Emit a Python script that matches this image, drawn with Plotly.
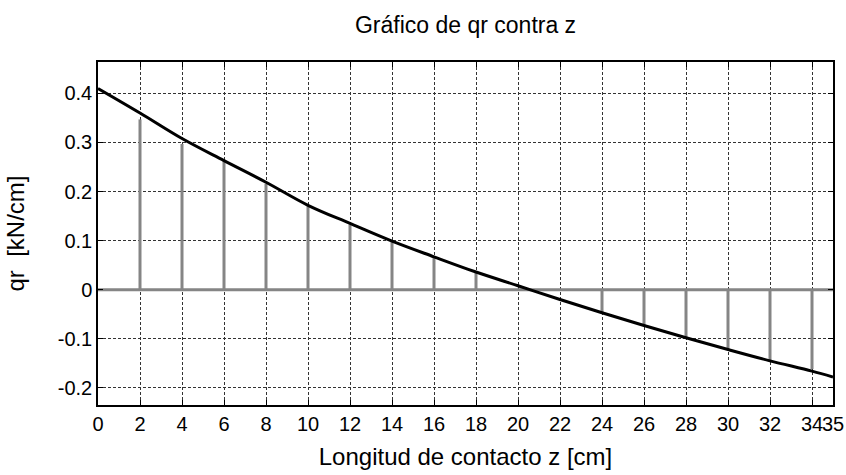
import plotly.graph_objects as go

# Curve qr(z)
curve_z = [0, 2, 4, 6, 8, 10, 12, 14, 16, 18, 20, 22, 24, 26, 28, 30, 32, 34, 35]
curve_q = [0.41, 0.36, 0.308, 0.263, 0.219, 0.172, 0.135, 0.099, 0.067, 0.036,
           0.008, -0.02, -0.047, -0.073, -0.098, -0.122, -0.145, -0.166, -0.178]

# Stems
stem_z = [2, 4, 6, 8, 10, 12, 14, 16, 18, 24, 26, 28, 30, 32, 34]
stem_q = [0.347, 0.297, 0.262, 0.216, 0.170, 0.133, 0.097, 0.065, 0.035,
          -0.046, -0.072, -0.098, -0.122, -0.144, -0.162]

# Zero baseline extent
base_z = [0, 35]
base_q = [0, 0]

x_ticks = [0, 2, 4, 6, 8, 10, 12, 14, 16, 18, 20, 22, 24, 26, 28, 30, 32, 34, 35]
y_ticks = [0.4, 0.3, 0.2, 0.1, 0, -0.1, -0.2]
y_ticktext = ["0.4", "0.3", "0.2", "0.1", "0", "-0.1", "-0.2"]

sx, sy = [], []
for z, q in zip(stem_z, stem_q):
    sx += [z, z, None]
    sy += [0, q, None]

gray = "#858585"
fig = go.Figure()
fig.add_trace(go.Scatter(x=base_z, y=base_q, mode="lines",
                         line=dict(color=gray, width=3), showlegend=False))
fig.add_trace(go.Scatter(x=sx, y=sy, mode="lines",
                         line=dict(color=gray, width=3), showlegend=False))
fig.add_trace(go.Scatter(x=curve_z, y=curve_q, mode="lines",
                         line=dict(color="black", width=3, shape="spline"),
                         showlegend=False))

font_family = "Liberation Sans, Arial, sans-serif"
fig.update_layout(
    width=846, height=475,
    margin=dict(l=98, r=13, t=62, b=70),
    paper_bgcolor="white", plot_bgcolor="white",
    font=dict(family=font_family, color="black", size=20),
    title=dict(text="Gráfico de qr contra z", x=0.5503, xanchor="center",
               y=0.947, yanchor="middle", font=dict(size=23, color="black")),
    xaxis=dict(range=[0, 35], tickvals=x_ticks, ticktext=[str(v) for v in x_ticks],
               tickangle=0, automargin=False,
               showgrid=True, gridcolor="#333333", griddash="3px,2px", gridwidth=1,
               zeroline=False, showline=True, linecolor="black", linewidth=1.5,
               mirror="ticks", ticks="inside", ticklen=5, tickcolor="black",
               tickfont=dict(size=20),
               title=dict(text="Longitud de contacto z [cm]", font=dict(size=24), standoff=14)),
    yaxis=dict(range=[-0.235, 0.464], tickvals=y_ticks, ticktext=y_ticktext,
               automargin=False,
               showgrid=True, gridcolor="#333333", griddash="3px,2px", gridwidth=1,
               zeroline=False, showline=True, linecolor="black", linewidth=1.5,
               mirror="ticks", ticks="inside", ticklen=5, tickcolor="black",
               tickfont=dict(size=20),
               title=dict(text="qr  [kN/cm]", font=dict(size=24), standoff=26)),
)

fig.write_html("out.html", config={"displayModeBar": False},
               post_script="document.body.style.margin='0';")
